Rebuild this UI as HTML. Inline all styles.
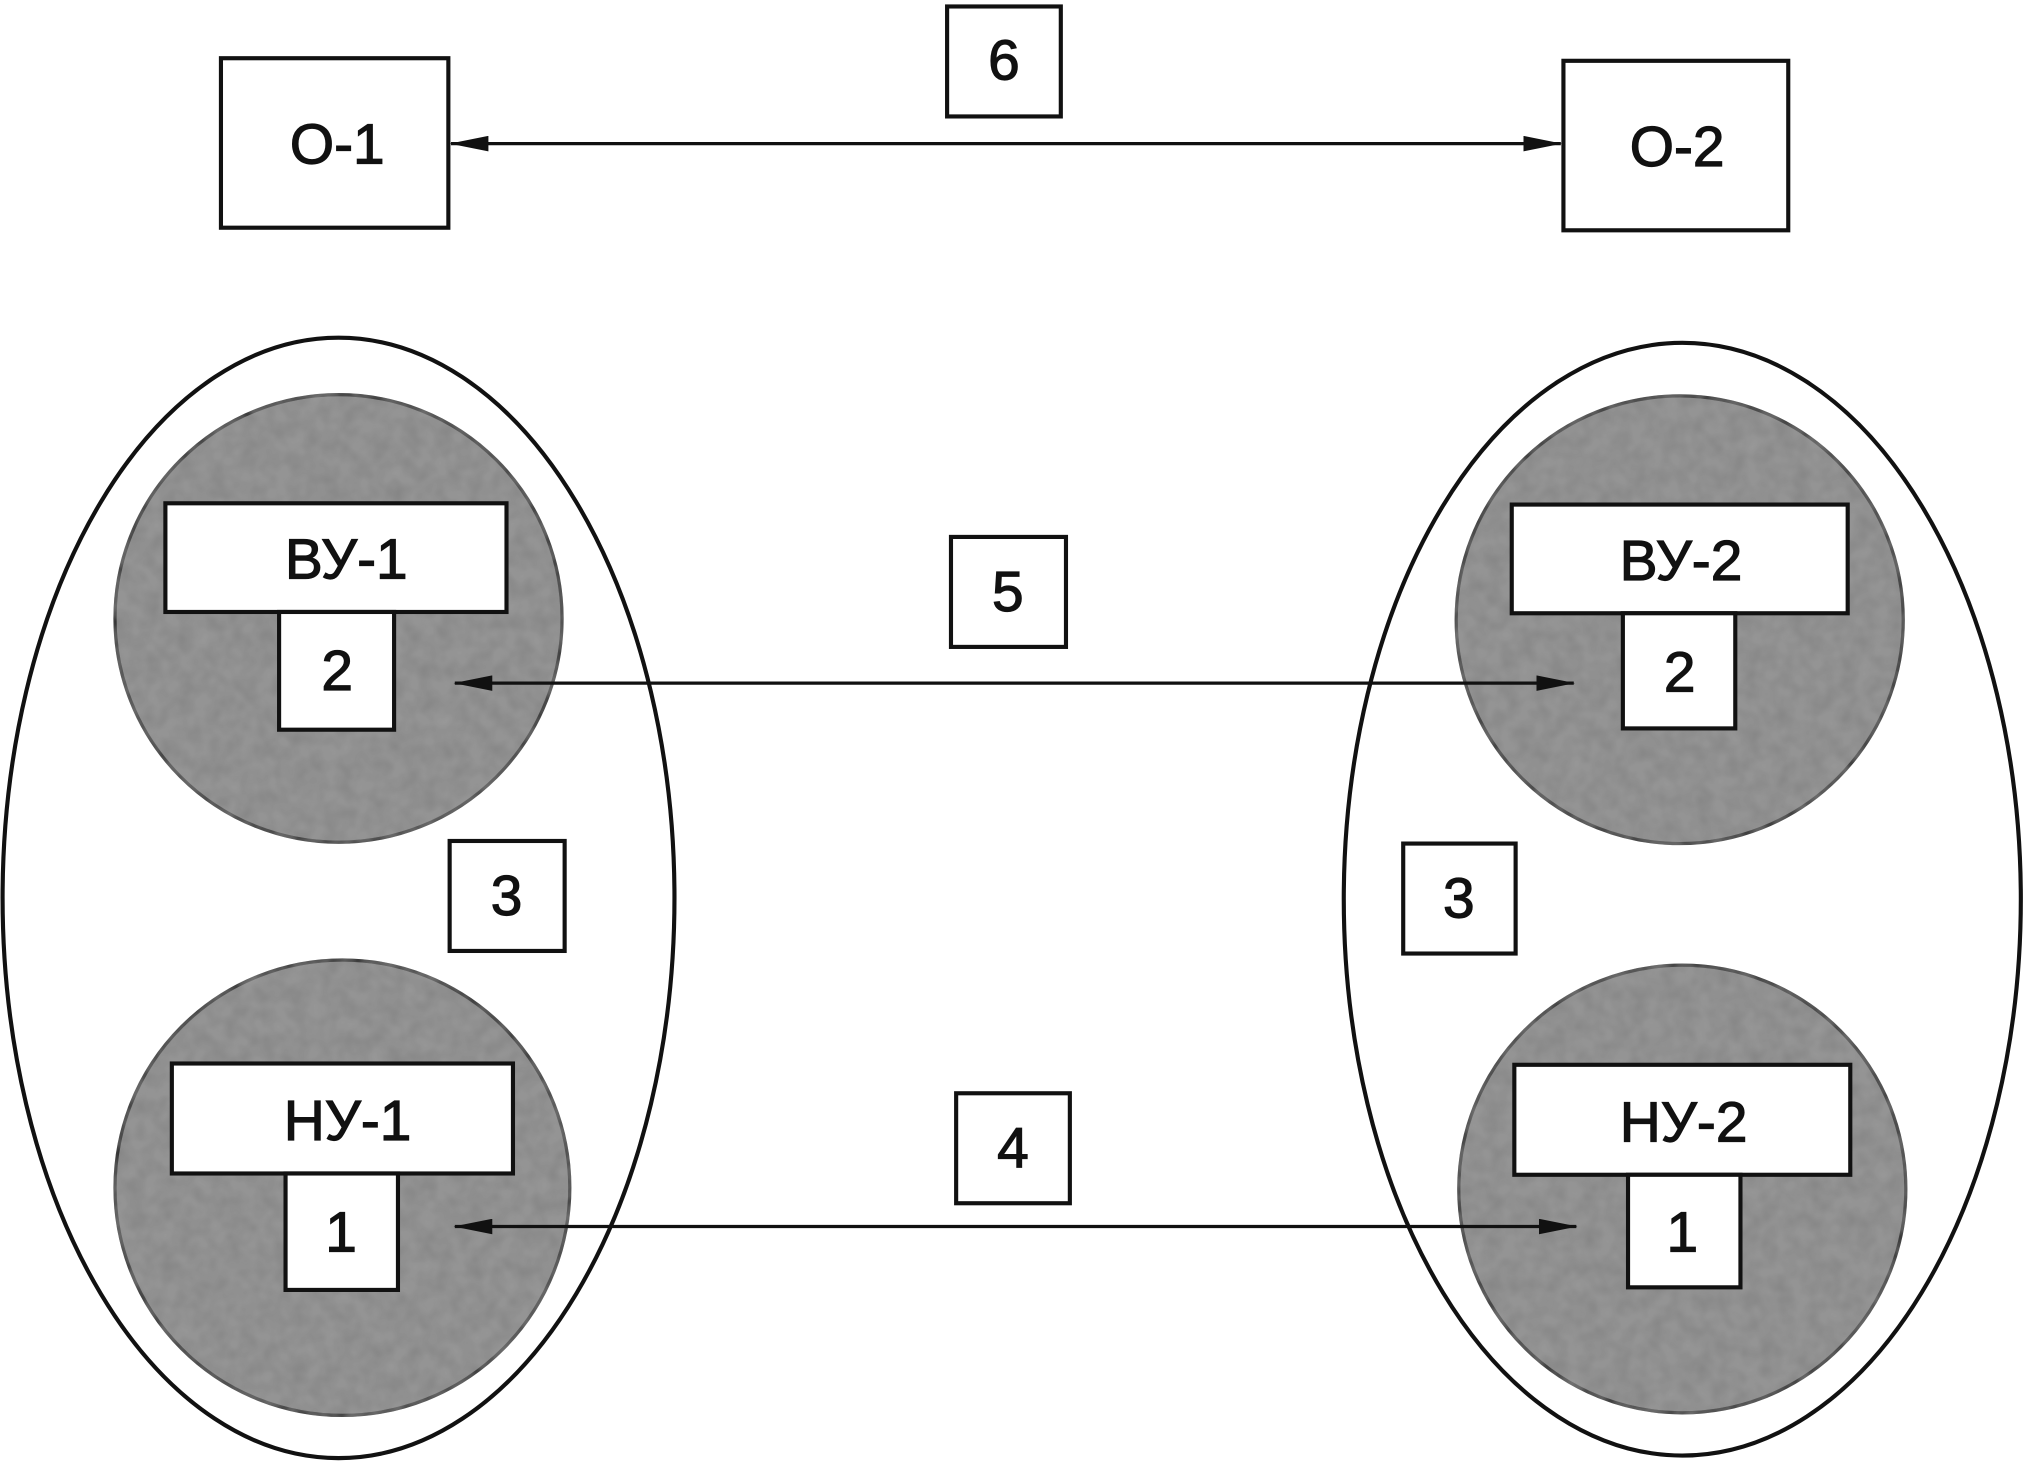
<!DOCTYPE html>
<html><head><meta charset="utf-8"><style>
html,body{margin:0;padding:0;background:#fff;}
svg{display:block;}
text{font-family:"Liberation Sans",sans-serif;font-size:44px;fill:#111;stroke:#111;stroke-width:0.9px;text-anchor:middle;dominant-baseline:central;}
</style></head><body>
<svg width="2026" height="1462" viewBox="0 0 1568 1130" preserveAspectRatio="none" xmlns="http://www.w3.org/2000/svg">
<defs>
<filter id="n" x="-10%" y="-10%" width="120%" height="120%">
<feTurbulence type="fractalNoise" baseFrequency="0.08" numOctaves="2" seed="3" result="t"/>
<feColorMatrix in="t" type="matrix" values="0 0 0 0 0.45  0 0 0 0 0.45  0 0 0 0 0.45  0 0 0 0.4 0" result="tn"/>
<feComposite in="tn" in2="SourceGraphic" operator="in" result="tc"/>
<feMerge><feMergeNode in="SourceGraphic"/><feMergeNode in="tc"/></feMerge>
</filter>
<marker id="b" viewBox="0 0 30 12" markerWidth="30" markerHeight="12" refX="29" refY="6" orient="auto-start-reverse" markerUnits="userSpaceOnUse">
<path d="M0,0 L30,6 L0,12 Z" fill="#111"/></marker>
</defs>
<g fill="none" stroke="#111" stroke-width="3.2">
<ellipse cx="262" cy="694" rx="260" ry="433"/>
<ellipse cx="1302" cy="695" rx="262" ry="430"/>
</g>
<g fill="#858585" stroke="#222" stroke-width="2.5" filter="url(#n)">
<circle cx="262" cy="478" r="173"/>
<circle cx="265" cy="918" r="176"/>
<circle cx="1300" cy="479" r="173"/>
<circle cx="1302" cy="919" r="173"/>
</g>
<g fill="#fff" stroke="#111" stroke-width="3.2">
<rect x="171" y="45" width="176" height="131"/>
<rect x="733" y="5" width="88" height="85"/>
<rect x="1210" y="47" width="174" height="131"/>
<rect x="128" y="389" width="264" height="84"/>
<rect x="216" y="473" width="89" height="91"/>
<rect x="133" y="822" width="264" height="85"/>
<rect x="221" y="907" width="87" height="90"/>
<rect x="1170" y="390" width="260" height="84"/>
<rect x="1256" y="474" width="87" height="89"/>
<rect x="1172" y="823" width="260" height="85"/>
<rect x="1260" y="908" width="87" height="87"/>
<rect x="348" y="650" width="89" height="85"/>
<rect x="1086" y="652" width="87" height="85"/>
<rect x="736" y="415" width="89" height="85"/>
<rect x="740" y="845" width="88" height="85"/>
</g>
<g stroke="#111" stroke-width="2.5">
<line x1="349" y1="111" x2="1208" y2="111" marker-start="url(#b)" marker-end="url(#b)"/>
<line x1="352" y1="528" x2="1218" y2="528" marker-start="url(#b)" marker-end="url(#b)"/>
<line x1="352" y1="948" x2="1220" y2="948" marker-start="url(#b)" marker-end="url(#b)"/>
</g>
<text x="261" y="112">О-1</text>
<text x="777" y="47">6</text>
<text x="1298" y="114">О-2</text>
<text x="268" y="433">ВУ-1</text>
<text x="261" y="519">2</text>
<text x="269" y="867">НУ-1</text>
<text x="264" y="953">1</text>
<text x="1301" y="434">ВУ-2</text>
<text x="1300" y="520">2</text>
<text x="1303" y="868">НУ-2</text>
<text x="1302" y="953">1</text>
<text x="392" y="693">3</text>
<text x="1129" y="695">3</text>
<text x="780" y="458">5</text>
<text x="784" y="888">4</text>
</svg>
</body></html>
